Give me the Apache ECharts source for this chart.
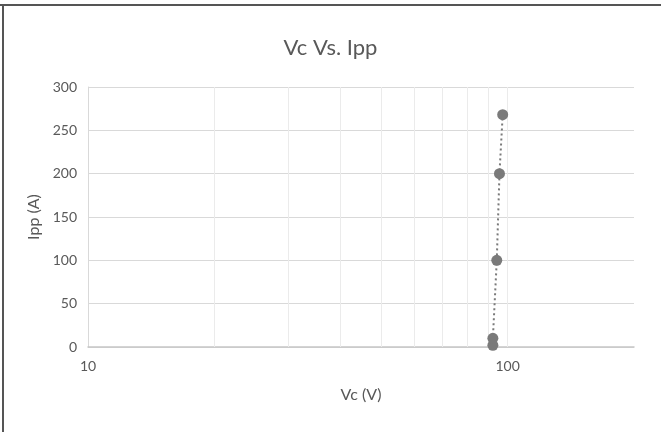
<!DOCTYPE html>
<html>
<head>
<meta charset="utf-8">
<script src="https://cdn.jsdelivr.net/npm/echarts@6/dist/echarts.min.js"></script>
<style>html,body{margin:0;padding:0;background:#fff;}#c{width:661px;height:432px;}</style>
</head>
<body>
<div id="c"></div>
<script>
var vc = [92.2, 92.2, 94.2, 95.6, 97.3];
var ipp = [2, 10, 100, 200, 268];
var minorGrid = [20, 30, 40, 50, 60, 70, 80, 90, 100];
var xLabels = [10, 100];

var chart = echarts.init(document.getElementById('c'));
var font = 'Lato, "Open Sans", sans-serif';
chart.setOption({
  animation: false,
  backgroundColor: '#fff',
  textStyle: {fontFamily: font},
  title: {
    text: 'Vc Vs. Ipp', left: 'center', top: 32,
    textStyle: {fontSize: 22, fontWeight: 'normal', color: '#595959', fontFamily: font}
  },
  graphic: [
    {type: 'line', shape: {x1: 0, y1: 5, x2: 661, y2: 5}, style: {stroke: '#555', lineWidth: 2}},
    {type: 'line', shape: {x1: 3, y1: 5, x2: 3, y2: 432}, style: {stroke: '#555', lineWidth: 2}}
  ],
  grid: {left: 88, right: 27, top: 87, bottom: 85},
  xAxis: {
    type: 'log', logBase: 10, min: 10, max: 200,
    name: 'Vc (V)', nameLocation: 'middle', nameGap: 40,
    nameTextStyle: {fontSize: 16, color: '#595959', fontFamily: font},
    axisLine: {show: true, lineStyle: {color: '#c6c6c6', width: 1.5}},
    axisTick: {show: false},
    splitLine: {show: false},
    axisLabel: {
      margin: 12, fontSize: 14, color: '#595959', fontFamily: font,
      formatter: function (v) { return xLabels.indexOf(Math.round(v)) >= 0 ? String(Math.round(v)) : ''; }
    }
  },
  yAxis: {
    type: 'value', min: 0, max: 300, interval: 50,
    name: 'Ipp (A)', nameLocation: 'middle', nameGap: 44,
    nameTextStyle: {fontSize: 16, color: '#595959', fontFamily: font},
    axisLine: {show: true, lineStyle: {color: '#d9d9d9'}},
    axisTick: {show: false},
    splitLine: {show: true, lineStyle: {color: '#d9d9d9', width: 1}},
    axisLabel: {margin: 11, fontSize: 14, color: '#595959', fontFamily: font}
  },
  series: [
    {
      type: 'scatter', data: [], z: 1, silent: true,
      markLine: {
        silent: true, symbol: 'none', z: 1, animation: false,
        label: {show: false},
        lineStyle: {color: '#ebebeb', width: 1, type: 'solid'},
        data: minorGrid.map(function (v) { return {xAxis: v}; })
      }
    },
    {
      type: 'line', z: 3,
      data: vc.map(function (v, i) { return [v, ipp[i]]; }),
      symbol: 'circle', symbolSize: 11,
      itemStyle: {color: '#7a7a7a'},
      lineStyle: {color: '#7a7a7a', width: 2, type: [2, 3]}
    }
  ]
});
</script>
</body>
</html>
